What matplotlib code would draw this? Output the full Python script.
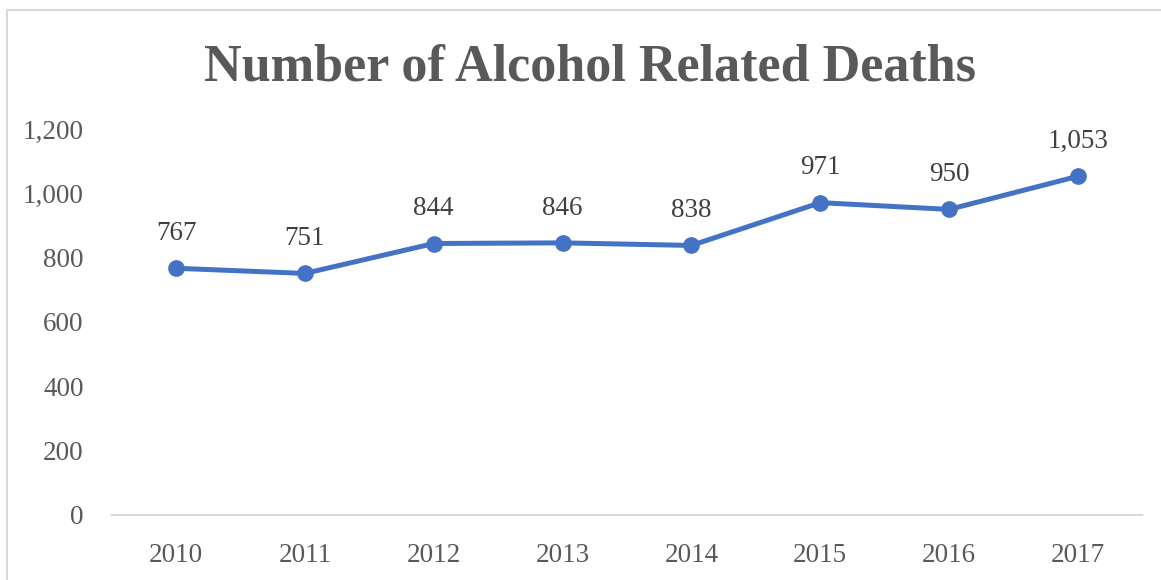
import matplotlib
matplotlib.use('Agg')
import matplotlib.pyplot as plt
import matplotlib.patches as patches

years = ['2010', '2011', '2012', '2013', '2014', '2015', '2016', '2017']
deaths = [767, 751, 844, 846, 838, 971, 950, 1053]
y_ticks = [0, 200, 400, 600, 800, 1000, 1200]

plt.rcParams['font.family'] = ['Liberation Serif', 'DejaVu Serif']

fig = plt.figure(figsize=(11.61, 5.8), dpi=100)
ax = fig.add_axes([0.0961, 0.1121, 0.984 - 0.0961, 0.7776 - 0.1121])

# chart frame (partly cut off on the right and bottom)
fig.patches.append(patches.Rectangle((7 / 1161, -0.1), 1.2, 1 - 10 / 580 + 0.1,
                                     transform=fig.transFigure, fill=False,
                                     edgecolor='#d9d9d9', linewidth=1.5))

x = list(range(len(years)))
ax.plot(x, deaths, color='#4472C4', linewidth=3.6, marker='o', markersize=11,
        solid_capstyle='round')

for xi, v in zip(x, deaths):
    ax.annotate(f'{v:,}', (xi, v), xytext=(0, 25), textcoords='offset points',
                ha='center', va='center', fontsize=19.5, color='#404040')

ax.set_xlim(-0.5, len(years) - 0.5)
ax.set_ylim(0, 1200)
ax.set_xticks(x)
ax.set_xticklabels(years)
ax.set_yticks(y_ticks)
ax.set_yticklabels([f'{t:,}' for t in y_ticks])
ax.tick_params(axis='both', length=0, labelsize=19.5, colors='#595959')
ax.tick_params(axis='x', pad=20)
ax.tick_params(axis='y', pad=20)

for s in ['top', 'right', 'left']:
    ax.spines[s].set_visible(False)
ax.spines['bottom'].set_color('#d9d9d9')
ax.spines['bottom'].set_linewidth(1.5)

fig.text(0.508, 0.884, 'Number of Alcohol Related Deaths', ha='center', va='center',
         fontsize=37.5, fontweight='bold', color='#595959')

fig.savefig('out.png', dpi=100)
